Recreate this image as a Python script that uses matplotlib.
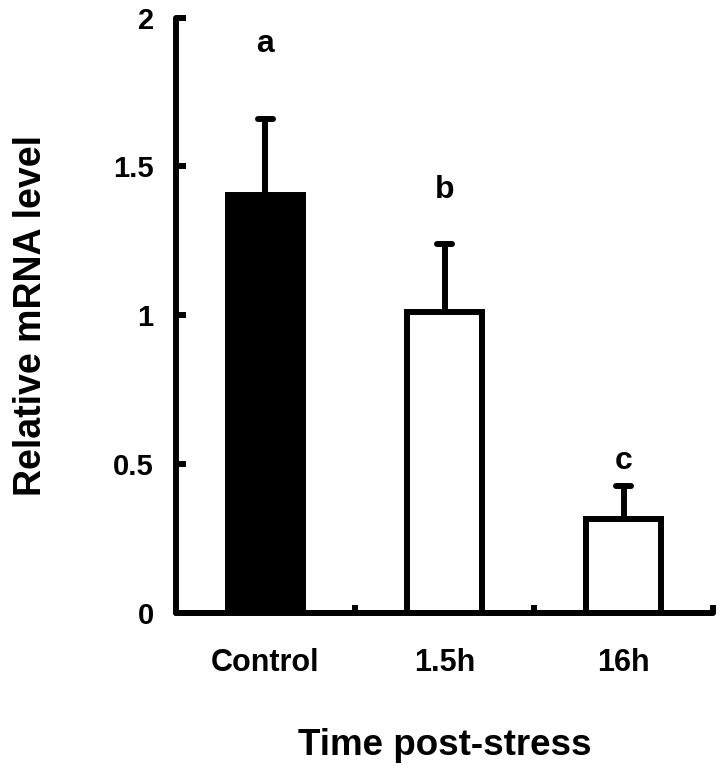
import numpy as np
import matplotlib.pyplot as plt

# Data
categories = ['Control', '1.5h', '16h']
values = [1.405, 1.01, 0.315]
errors = [0.255, 0.23, 0.11]
letters = ['a', 'b', 'c']
letter_y = [1.91, 1.42, 0.51]
colors = ['black', 'white', 'white']

yticks = [0, 0.5, 1, 1.5, 2]
yticklabels = ['0', '0.5', '1', '1.5', '2']

plt.rcParams['font.family'] = 'Liberation Sans'
plt.rcParams['font.weight'] = 'bold'

fig = plt.figure(figsize=(7.24, 7.69), dpi=100)
ax = fig.add_axes([0.243, 0.203, 0.742, 0.774])

x = np.arange(len(categories))
lw = 4.3

ax.bar(x, values, width=0.42, color=colors, edgecolor='black', linewidth=lw, zorder=2)

# upper error bars only
for xi, v, e in zip(x, values, errors):
    ax.plot([xi, xi], [v, v + e], color='black', lw=lw, solid_capstyle='butt', zorder=1)
    ax.plot([xi - 0.042, xi + 0.042], [v + e, v + e], color='black', lw=lw,
            solid_capstyle='round', zorder=1)

for xi, t, ly in zip(x, letters, letter_y):
    ax.text(xi, ly, t, ha='center', va='center', fontsize=23, fontweight='bold')

ax.set_xlim(-0.5, 2.5)
ax.set_ylim(0, 2)

ax.set_yticks(yticks)
ax.set_yticklabels(yticklabels, fontsize=21, fontweight='bold')
ax.set_xticks(x)
ax.set_xticklabels(categories, fontsize=22, fontweight='bold')
ax.set_xticks([0.5, 1.5, 2.5], minor=True)

ax.tick_params(axis='y', direction='in', length=7, width=lw, pad=16)
ax.tick_params(axis='x', which='major', length=0, pad=25)
ax.tick_params(axis='x', which='minor', direction='in', length=6, width=lw)

ax.set_ylabel('Relative mRNA level', fontsize=27, fontweight='bold', labelpad=46)
ax.set_xlabel('Time post-stress', fontsize=26.5, fontweight='bold', labelpad=36)

for s in ['top', 'right']:
    ax.spines[s].set_visible(False)
for s in ['left', 'bottom']:
    ax.spines[s].set_linewidth(lw)
    ax.spines[s].set_capstyle('round')

fig.savefig('out.png', dpi=100)
